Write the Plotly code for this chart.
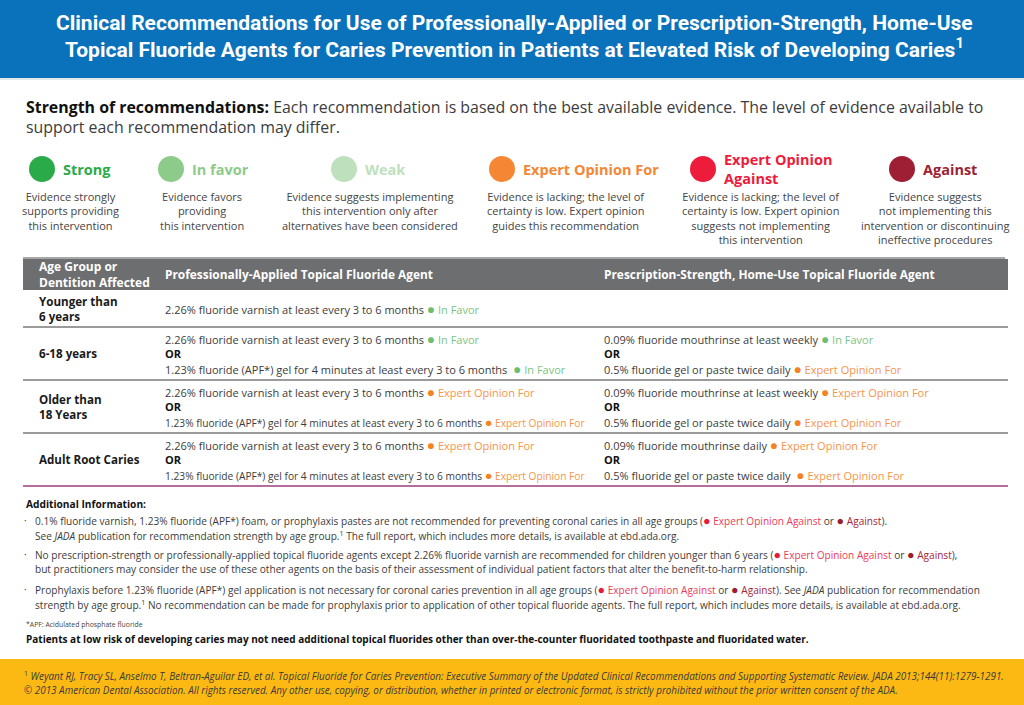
import plotly.graph_objects as go

# ---------------- data ----------------
title_lines = [
    "Clinical Recommendations for Use of Professionally-Applied or Prescription-Strength, Home-Use",
    "Topical Fluoride Agents for Caries Prevention in Patients at Elevated Risk of Developing Caries<sup>1</sup>",
]
intro_bold = "Strength of recommendations:"
intro_lines = [
    "Each recommendation is based on the best available evidence. The level of evidence available to",
    "support each recommendation may differ.",
]

levels = ["Strong", "In favor", "Weak", "Expert Opinion For", "Expert Opinion Against", "Against"]
level_titles = ["Strong", "In favor", "Weak", "Expert Opinion For", "Expert Opinion<br>Against", "Against"]
level_colors = ["#2BAA4A", "#8DCB8B", "#BEE0BC", "#F58634", "#EC1C3A", "#9E1F34"]
level_desc = [
    "Evidence strongly<br>supports providing<br>this intervention",
    "Evidence favors<br>providing<br>this intervention",
    "Evidence suggests implementing<br>this intervention only after<br>alternatives have been considered",
    "Evidence is lacking; the level of<br>certainty is low. Expert opinion<br>guides this recommendation",
    "Evidence is lacking; the level of<br>certainty is low. Expert opinion<br>suggests not implementing<br>this intervention",
    "Evidence suggests<br>not implementing this<br>intervention or discontinuing<br>ineffective procedures",
]

table_headers = ["Age Group or<br>Dentition Affected",
                 "Professionally-Applied Topical Fluoride Agent",
                 "Prescription-Strength, Home-Use Topical Fluoride Agent"]
age_groups = ["Younger than<br>6 years", "6-18 years", "Older than<br>18 Years", "Adult Root Caries"]
prof_agent_1 = ["2.26% fluoride varnish at least every 3 to 6 months"] * 4
prof_level_1 = ["In Favor", "In Favor", "Expert Opinion For", "Expert Opinion For"]
prof_agent_2 = [None] + ["1.23% fluoride (APF*) gel for 4 minutes at least every 3 to 6 months"] * 3
prof_level_2 = [None, "In Favor", "Expert Opinion For", "Expert Opinion For"]
rx_agent_1 = [None, "0.09% fluoride mouthrinse at least weekly",
              "0.09% fluoride mouthrinse at least weekly", "0.09% fluoride mouthrinse daily"]
rx_level_1 = [None, "In Favor", "Expert Opinion For", "Expert Opinion For"]
rx_agent_2 = [None] + ["0.5% fluoride gel or paste twice daily"] * 3
rx_level_2 = [None, "Expert Opinion For", "Expert Opinion For", "Expert Opinion For"]

label_text_colors = {"In Favor": "#7CC47F", "Expert Opinion For": "#F7944A",
                     "Expert Opinion Against": "#EE3A5A", "Against": "#A3243B"}
label_dot_colors = {"In Favor": "#6CBF6F", "Expert Opinion For": "#F58220",
                    "Expert Opinion Against": "#E8193C", "Against": "#9B1D30"}

info_title = "Additional Information:"
info_lines = [
    "· 0.1% fluoride varnish, 1.23% fluoride (APF*) foam, or prophylaxis pastes are not recommended for preventing coronal caries in all age groups ({EOA} or {AG}).",
    "  See <i>JADA</i> publication for recommendation strength by age group.<sup>1</sup> The full report, which includes more details, is available at ebd.ada.org.",
    "· No prescription-strength or professionally-applied topical fluoride agents except 2.26% fluoride varnish are recommended for children younger than 6 years ({EOA} or {AG}),",
    "  but practitioners may consider the use of these other agents on the basis of their assessment of individual patient factors that alter the benefit-to-harm relationship.",
    "· Prophylaxis before 1.23% fluoride (APF*) gel application is not necessary for coronal caries prevention in all age groups ({EOA} or {AG}). See <i>JADA</i> publication for recommendation",
    "  strength by age group.<sup>1</sup> No recommendation can be made for prophylaxis prior to application of other topical fluoride agents. The full report, which includes more details, is available at ebd.ada.org.",
]
apf_note = "*APF: Acidulated phosphate fluoride"
low_risk_note = "Patients at low risk of developing caries may not need additional topical fluorides other than over-the-counter fluoridated toothpaste and fluoridated water."
footer_lines = [
    "<sup>1</sup> <i>Weyant RJ, Tracy SL, Anselmo T, Beltran-Aguilar ED, et al. Topical Fluoride for Caries Prevention: Executive Summary of the Updated Clinical Recommendations and Supporting Systematic Review. JADA 2013;144(11):1279-1291.</i>",
    "<i>© 2013 American Dental Association. All rights reserved. Any other use, copying, or distribution, whether in printed or electronic format, is strictly prohibited without the prior written consent of the ADA.</i>",
]

# ---------------- layout constants (pixels) ----------------
W, H = 1024, 705
TXT = "#3C3C3C"
BODY = "Open Sans"
TITLE_FONT = "Roboto"
legend_cx = [42, 171, 344, 502, 703, 902]
legend_desc_cx = [70, 202, 370, 566, 761, 935]
row_tops = [290, 327, 380, 433]
row_bottoms = [327, 380, 433, 486]
col_age_x, col_prof_x, col_rx_x = 37, 163, 602
TL, TR = 23, 1008
ROW_FS = 11.0
ROW_FS_TIGHT = 10.2

fig = go.Figure()
ann = []
shapes = []


def text(x, y, s, size, color=TXT, xanchor="left", yanchor="middle", family=BODY, align="left"):
    ann.append(dict(x=x, y=y, xref="x", yref="y", text=s, showarrow=False,
                    xanchor=xanchor, yanchor=yanchor, align=align,
                    font=dict(size=size, color=color, family=family)))


def dot(color, px):
    return f"<span style='color:{color};font-size:{px}px'>●</span>"


def labelled(agent, level, gap=" ", fs=ROW_FS):
    return (f"{agent}{gap}{dot(label_dot_colors[level], round(fs * 1.25, 1))}"
            f"<span style='color:{label_text_colors[level]}'> {level}</span>")


# header band
shapes.append(dict(type="rect", x0=-5, x1=W + 5, y0=-5, y1=78, fillcolor="#0A72BA", line_width=0, layer="below"))
shapes.append(dict(type="line", x0=0, x1=W, y0=79, y1=79, line=dict(color="#E3E8EC", width=2)))
text(W / 2 + 2, 23, "<b>" + title_lines[0] + "</b>", 21, "white", xanchor="center", family=TITLE_FONT)
text(W / 2 + 2, 48, "<b>" + title_lines[1] + "</b>", 21, "white", xanchor="center", family=TITLE_FONT)

# intro
text(24, 107, f"<b style='color:#111'>{intro_bold}</b> {intro_lines[0]}", 15.9, TXT)
text(24, 127, intro_lines[1], 15.9, TXT)

# legend circles (drawn as scatter markers)
fig.add_trace(go.Scatter(x=legend_cx, y=[169] * len(levels), mode="markers",
                         marker=dict(size=26, color=level_colors, line_width=0),
                         hoverinfo="text", hovertext=levels, showlegend=False))
for i, lv in enumerate(levels):
    text(legend_cx[i] + 19, 169, f"<b>{level_titles[i]}</b>", 14.5, level_colors[i])
    text(legend_desc_cx[i], 187, level_desc[i], 11, "#444", xanchor="center", yanchor="top", align="center")

# table
shapes.append(dict(type="line", x0=TL, x1=1005, y0=258, y1=258, line=dict(color="#8A8A8A", width=1.5)))
shapes.append(dict(type="rect", x0=TL, x1=TR, y0=259, y1=290, fillcolor="#6D6E70", line_width=0, layer="below"))
text(col_age_x, 274, f"<b>{table_headers[0]}</b>", 12, "white")
text(col_prof_x, 274, f"<b>{table_headers[1]}</b>", 11.9, "white")
text(col_rx_x, 274, f"<b>{table_headers[2]}</b>", 11.9, "white")

for i, ag in enumerate(age_groups):
    top, bot = row_tops[i], row_bottoms[i]
    mid = (top + bot) / 2
    text(col_age_x, mid, f"<b style='color:#1A1A1A'>{ag}</b>", 11.6, "#1A1A1A")
    line_col = "#9B3C7E" if i == len(age_groups) - 1 else "#7A7A7A"
    shapes.append(dict(type="line", x0=TL, x1=TR, y0=bot, y1=bot, line=dict(color=line_col, width=1.5)))
    if prof_agent_2[i] is None:
        text(col_prof_x, mid, labelled(prof_agent_1[i], prof_level_1[i]), ROW_FS)
    else:
        in_favor = prof_level_2[i] == "In Favor"
        gap2 = "  " if in_favor else " "
        fs2 = ROW_FS if in_favor else ROW_FS_TIGHT
        text(col_prof_x, top + 11.5, labelled(prof_agent_1[i], prof_level_1[i]), ROW_FS)
        text(col_prof_x, top + 26.5, "<b style='color:#111'>OR</b>", ROW_FS)
        text(col_prof_x, top + 41.5, labelled(prof_agent_2[i], prof_level_2[i], gap2, fs2), fs2)
    if rx_agent_1[i] is not None:
        gap2 = "  " if i == len(age_groups) - 1 else " "
        text(col_rx_x, top + 11.5, labelled(rx_agent_1[i], rx_level_1[i]), ROW_FS)
        text(col_rx_x, top + 26.5, "<b style='color:#111'>OR</b>", ROW_FS)
        text(col_rx_x, top + 41.5, labelled(rx_agent_2[i], rx_level_2[i], gap2), ROW_FS)

# additional info
INFO_FS = 10.1
text(24, 504, f"<b style='color:#111'>{info_title}</b>", 10.2, "#111")
eoa = (dot(label_dot_colors['Expert Opinion Against'], 12.5) +
       f"<span style='color:{label_text_colors['Expert Opinion Against']}'> Expert Opinion Against</span>")
agn = (dot(label_dot_colors['Against'], 12.5) +
       f"<span style='color:{label_text_colors['Against']}'> Against</span>")
info_y = [520, 535, 554, 569, 589, 604]
for s, y in zip(info_lines, info_y):
    s = s.replace("{EOA}", eoa).replace("{AG}", agn)
    if s.startswith("· "):
        text(22, y, "·", INFO_FS)
        text(33, y, s[2:], INFO_FS)
    else:
        text(33, y, s.strip(), INFO_FS)
text(24, 624, apf_note, 6.9, "#444")
text(24, 639, f"<b style='color:#111'>{low_risk_note}</b>", 10.0, "#111")

# footer
shapes.append(dict(type="rect", x0=-5, x1=W + 5, y0=659, y1=H + 5, fillcolor="#FDB913", line_width=0, layer="below"))
text(22, 676, footer_lines[0], 9.9, "#3A3A3A")
text(22, 690, footer_lines[1], 9.9, "#3A3A3A")

fig.update_layout(
    width=W, height=H, margin=dict(l=0, r=0, t=0, b=0),
    paper_bgcolor="white", plot_bgcolor="white",
    xaxis=dict(range=[0, W], visible=False, fixedrange=True),
    yaxis=dict(range=[H, 0], visible=False, fixedrange=True),
    annotations=ann, shapes=shapes, showlegend=False,
)
fig.write_html("out.html", config={"displayModeBar": False},
               post_script="document.body.style.margin='0';document.body.style.overflow='hidden';")
